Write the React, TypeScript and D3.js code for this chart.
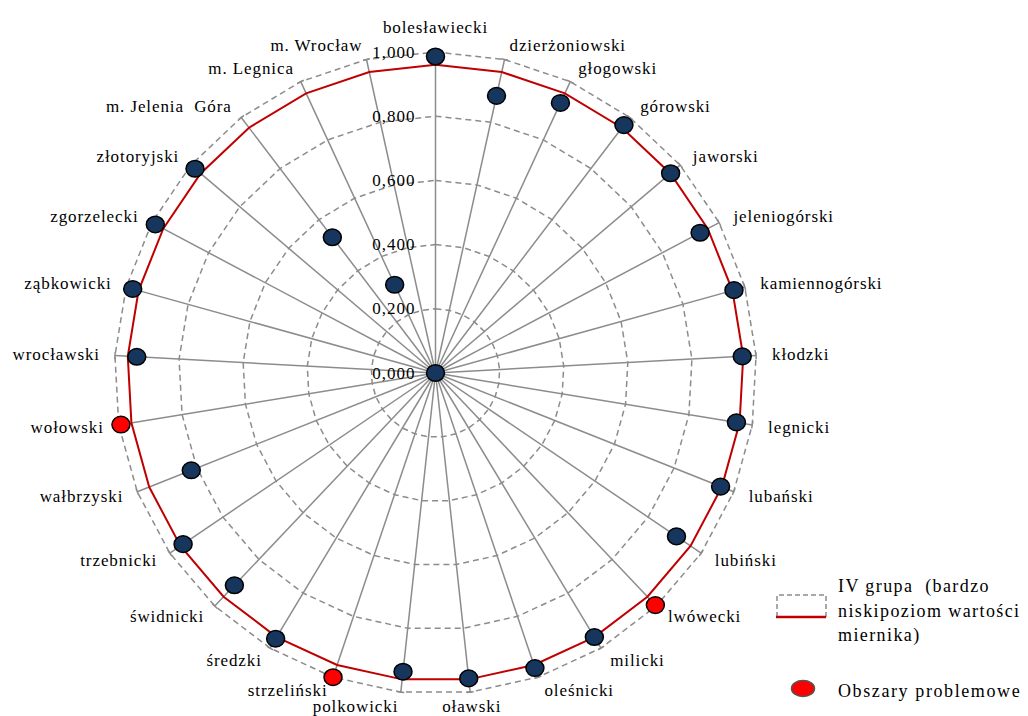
import React from "react";
import * as d3 from "d3";

const categories = [
  "bolesławiecki", "dzierżoniowski", "głogowski", "górowski", "jaworski",
  "jeleniogórski", "kamiennogórski", "kłodzki", "legnicki", "lubański",
  "lubiński", "lwówecki", "milicki", "oleśnicki", "oławski", "polkowicki",
  "strzeliński", "średzki", "świdnicki", "trzebnicki", "wałbrzyski",
  "wołowski", "wrocławski", "ząbkowicki", "zgorzelecki", "złotoryjski",
  "m. Jelenia  Góra", "m. Legnica", "m. Wrocław",
];

const values = [
  0.986, 0.884, 0.927, 0.970, 0.961, 0.933, 0.965, 0.957, 0.950, 0.956,
  0.907, 0.996, 0.960, 0.970, 0.957, 0.936, 1.0, 0.966, 0.911, 0.950,
  0.819, 0.993, 0.932, 0.979, 0.988, 0.983, 0.531, 0.303, 0.0,
];

const problemAreas = ["lwówecki", "strzeliński", "wołowski"];

const ivGroup = [
  0.96, 0.96, 0.96, 0.96, 0.96, 0.96, 0.96, 0.96, 0.96, 0.96,
  0.96, 0.96, 0.96, 0.96, 0.96, 0.96, 0.96, 0.96, 0.96, 0.96,
  0.96, 0.96, 0.96, 0.96, 0.96, 0.96, 0.96, 0.96, 0.96,
];

const ticks = [0, 0.2, 0.4, 0.6, 0.8, 1.0];
const tickLabels = ["0,000", "0,200", "0,400", "0,600", "0,800", "1,000"];

const legendLines = ["IV grupa  (bardzo", "niskipoziom wartości", "miernika)"];
const legendProblem = "Obszary problemowe";

const W = 1028;
const H = 716;
const cx = 435.5;
const cy = 373;
const R = 321;
const FONT = '"Liberation Serif", "DejaVu Serif", serif';
const GRID = "#8c8c8c";
const NAVY = "#17365d";

export default function App() {
  const n = categories.length;
  const angle = d3
    .scaleLinear()
    .domain([0, n])
    .range([0, 2 * Math.PI]);
  const r = d3.scaleLinear().domain([0, 1]).range([0, R]);

  const pt = (i: number, v: number): [number, number] => {
    const a = angle(i);
    return [cx + r(v) * Math.sin(a), cy - r(v) * Math.cos(a)];
  };

  const ring = (v: number) =>
    d3.line()(d3.range(n + 1).map((i) => pt(i % n, v))) as string;

  const redPath = d3
    .line()
    .curve(d3.curveLinearClosed)(ivGroup.map((v, i) => pt(i, v))) as string;

  const txt = { fontFamily: FONT, whiteSpace: "pre" as const };

  return (
    <svg
      width={W}
      height={H}
      style={{ position: "absolute", left: 0, top: 0, background: "#fff", fontFamily: FONT }}
    >
      {ticks.slice(1).map((t) => (
        <path
          key={"ring" + t}
          d={ring(t)}
          fill="none"
          stroke={GRID}
          strokeWidth={1.5}
          strokeDasharray="6,4"
        />
      ))}
      {categories.map((c, i) => {
        const [x, y] = pt(i, 1);
        const a = angle(i);
        const tx = Math.cos(a) * 3.5;
        const ty = Math.sin(a) * 3.5;
        return (
          <g key={"sp" + i}>
            <line x1={cx} y1={cy} x2={x} y2={y} stroke={GRID} strokeWidth={1.5} />
            <line x1={x - tx} y1={y - ty} x2={x + tx} y2={y + ty} stroke={GRID} strokeWidth={1.5} />
          </g>
        );
      })}
      {ticks.map((t, k) => (
        <text
          key={"tl" + k}
          x={cx - 20}
          y={cy - r(t)}
          textAnchor="end"
          dominantBaseline="central"
          fontSize={17}
          letterSpacing={1}
          fill="#000"
          style={txt}
        >
          {tickLabels[k]}
        </text>
      ))}
      <path d={redPath} fill="none" stroke="#c00000" strokeWidth={2} />
      {values.map((v, i) => {
        const [x, y] = pt(i, v);
        const prob = problemAreas.includes(categories[i]);
        return (
          <ellipse
            key={"pt" + i}
            cx={x}
            cy={y}
            rx={9}
            ry={8.3}
            fill={prob ? "#ff0000" : NAVY}
            stroke="#000"
            strokeWidth={1.5}
          />
        );
      })}
      {categories.map((c, i) => {
        const a = angle(i);
        const s = Math.sin(a);
        const co = Math.cos(a);
        let anchor: "start" | "end" | "middle" = "middle";
        if (s > 0.15) anchor = "start";
        else if (s < -0.05) anchor = "end";
        const rr = 335;
        let x = cx + rr * s;
        let y = cy - rr * co;
        if (anchor === "middle") {
          if (co > 0) y -= 11;
        } else {
          x += anchor === "start" ? 2 : -1;
        }
        return (
          <text
            key={"cl" + i}
            x={x}
            y={y}
            textAnchor={anchor}
            dominantBaseline="central"
            fontSize={17}
            letterSpacing={0.9}
            fill="#000"
            style={txt}
          >
            {c}
          </text>
        );
      })}
      <g>
        <path
          d="M777,617 L777,595 L826,595 L826,617"
          fill="none"
          stroke={GRID}
          strokeWidth={1.5}
          strokeDasharray="5,3"
        />
        <line x1={776} y1={617} x2={826} y2={617} stroke="#c00000" strokeWidth={2.5} />
        {legendLines.map((l, k) => (
          <text
            key={"lg" + k}
            x={838}
            y={592 + k * 24.5}
            fontSize={18}
            letterSpacing={1.4}
            fill="#000"
            style={txt}
          >
            {l}
          </text>
        ))}
        <ellipse cx={803} cy={688.5} rx={11.5} ry={8} fill="#ff0000" stroke="#555" strokeWidth={1.5} />
        <text x={838} y={697} fontSize={18} letterSpacing={1.6} fill="#000" style={txt}>
          {legendProblem}
        </text>
      </g>
    </svg>
  );
}
